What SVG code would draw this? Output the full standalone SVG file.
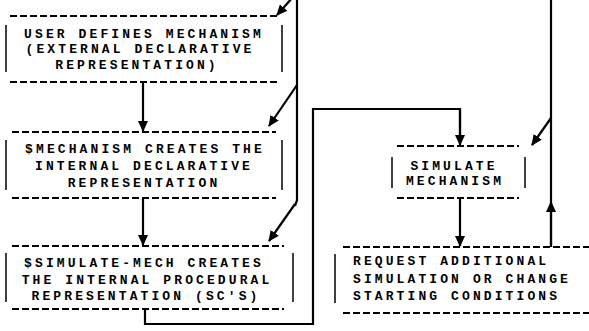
<svg xmlns="http://www.w3.org/2000/svg" width="589" height="331" viewBox="0 0 589 331">
<defs>
<marker id="ah" markerWidth="11" markerHeight="10" refX="10" refY="5" orient="auto" markerUnits="userSpaceOnUse">
<path d="M0,0 L11,5 L0,10 Z" fill="#000"/>
</marker>
<style>
.dash{stroke:#000;stroke-width:2;stroke-dasharray:7 3;fill:none}
.bar{stroke:#000;stroke-width:1.5;fill:none}
.ln{stroke:#000;stroke-width:2.2;fill:none}
.arr{stroke:#000;stroke-width:2.2;fill:none;marker-end:url(#ah)}
text{font-family:"Liberation Mono","DejaVu Sans Mono",monospace;font-weight:bold;font-size:13px;letter-spacing:3.1px;fill:#000}
.c{text-anchor:middle}
</style>
</defs>
<rect width="589" height="331" fill="#fff"/>
<g id="connectors">
<path class="arr" d="M143,83 V131"/>
<path class="arr" d="M143,199 V245"/>
<path class="ln" d="M145,310 V324 H313 V109 H460 V136"/>
<path class="arr" d="M460,109 V145"/>
<path class="arr" d="M460,199 V246"/>
<path class="ln" d="M551,0 V247"/>
<path class="arr" d="M551,247 V202"/>
<path class="arr" d="M551,118 L532,145"/>
<path class="ln" d="M297,0 V200 L295,206"/>
<path class="arr" d="M295,204 L269,241"/>
<path class="arr" d="M293,-3 L277,15"/>
<path class="arr" d="M297,85 L269,126"/>
</g>
<g id="n1">
<line class="dash" x1="10" y1="16" x2="280" y2="16"/>
<line class="dash" x1="10" y1="82" x2="280" y2="82"/>
<line class="bar" x1="6" y1="25" x2="6" y2="72"/>
<line class="bar" x1="282" y1="25" x2="282" y2="72"/>
<text class="c" x="144" y="38">USER DEFINES MECHANISM</text>
<text class="c" x="140" y="53">(EXTERNAL DECLARATIVE</text>
<text class="c" x="137" y="69">REPRESENTATION)</text>
</g>
<g id="n2">
<line class="dash" x1="12" y1="132" x2="276" y2="132"/>
<line class="dash" x1="12" y1="198" x2="276" y2="198"/>
<line class="bar" x1="6" y1="140" x2="6" y2="190"/>
<line class="bar" x1="282" y1="140" x2="282" y2="190"/>
<text class="c" x="145" y="153">$MECHANISM CREATES THE</text>
<text class="c" x="144" y="170">INTERNAL DECLARATIVE</text>
<text class="c" x="144" y="187">REPRESENTATION</text>
</g>
<g id="n3">
<line class="dash" x1="12" y1="246" x2="284" y2="246"/>
<line class="dash" x1="12" y1="309" x2="284" y2="309"/>
<line class="bar" x1="6" y1="253" x2="6" y2="302"/>
<line class="bar" x1="293" y1="253" x2="293" y2="302"/>
<text class="c" x="144" y="267">$SIMULATE-MECH CREATES</text>
<text class="c" x="147" y="284">THE INTERNAL PROCEDURAL</text>
<text class="c" x="146" y="300">REPRESENTATION (SC'S)</text>
</g>
<g id="n4">
<line class="dash" x1="397" y1="146" x2="519" y2="146"/>
<line class="dash" x1="397" y1="198" x2="519" y2="198"/>
<line class="bar" x1="392" y1="157" x2="392" y2="188"/>
<line class="bar" x1="525" y1="157" x2="525" y2="188"/>
<text class="c" x="454" y="170">SIMULATE</text>
<text class="c" x="455" y="185">MECHANISM</text>
</g>
<g id="n5">
<line class="dash" x1="343" y1="247" x2="589" y2="247"/>
<line class="dash" x1="343" y1="313" x2="589" y2="313"/>
<line class="bar" x1="335" y1="254" x2="335" y2="303"/>
<text x="353" y="265">REQUEST ADDITIONAL</text>
<text x="353" y="283">SIMULATION OR CHANGE</text>
<text x="353" y="300">STARTING CONDITIONS</text>
</g>
</svg>
